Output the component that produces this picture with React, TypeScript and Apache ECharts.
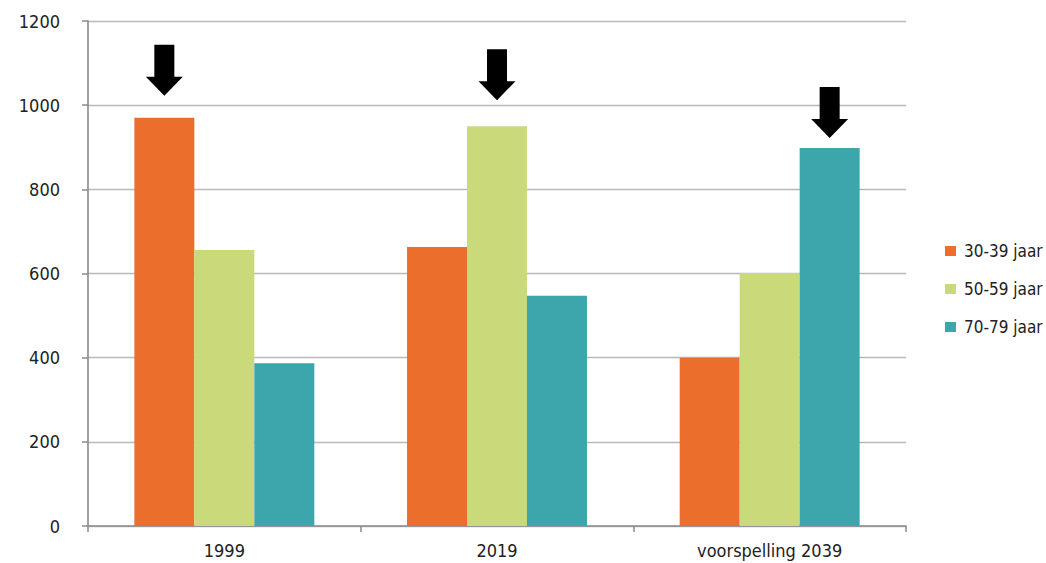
import React, { useEffect, useRef } from "react";
import * as echarts from "echarts";

const categories = ["1999", "2019", "voorspelling 2039"];
const seriesNames = ["30-39 jaar", "50-59 jaar", "70-79 jaar"];
const values3039 = [970, 663, 400];
const values5059 = [656, 950, 601];
const values7079 = [387, 547, 898];
const colors = ["#EC6E2C", "#CADA7B", "#3DA6AD"];
const yTicks = { min: 0, max: 1200, interval: 200 };

const FONT = '"DejaVu Sans Condensed", "Liberation Sans Narrow", sans-serif';
const ARROW = "path://M8.5,0 L28.5,0 L28.5,32 L37,32 L18.5,51 L0,32 L8.5,32 Z";
const arrowOffsets = [-47.5, -51.5, -35.5];

export default function App() {
  const ref = useRef<HTMLDivElement>(null);
  useEffect(() => {
    if (!ref.current) return;
    const chart = echarts.init(ref.current, null, { renderer: "svg" });
    const allValues = [values3039, values5059, values7079];
    chart.setOption({
      animation: false,
      backgroundColor: "#ffffff",
      textStyle: { fontFamily: FONT },
      grid: { left: 88, right: 140, top: 21, bottom: 37, containLabel: false },
      legend: {
        orient: "vertical",
        left: 940,
        top: 236,
        itemWidth: 11,
        itemHeight: 10,
        itemGap: 18,
        icon: "rect",
        data: seriesNames,
        textStyle: { fontFamily: FONT, fontSize: 17, color: "#222", lineHeight: 20, padding: [0, 0, 0, 3] },
      },
      xAxis: {
        type: "category",
        data: categories,
        axisLine: { lineStyle: { color: "#8a8a8a", width: 1.6 } },
        axisTick: { show: true, length: 6, alignWithLabel: false, lineStyle: { color: "#8a8a8a", width: 1.5 } },
        axisLabel: { fontFamily: FONT, fontSize: 18, color: "#222", margin: 15 },
        splitLine: { show: false },
      },
      yAxis: {
        type: "value",
        min: yTicks.min,
        max: yTicks.max,
        interval: yTicks.interval,
        axisLine: { show: true, lineStyle: { color: "#8a8a8a", width: 1.6 } },
        axisTick: { show: true, length: 6, lineStyle: { color: "#8a8a8a", width: 1.5 } },
        axisLabel: { fontFamily: FONT, fontSize: 18, color: "#222", margin: 28, formatter: (v: number) => String(v) },
        splitLine: { show: true, lineStyle: { color: "#b8b8b8", width: 1.4 } },
      },
      series: seriesNames.map((name, i) => ({
        name,
        type: "bar",
        data: allValues[i],
        barGap: "0%",
        barCategoryGap: "34%",
        itemStyle: { color: colors[i] },
        markPoint: {
          symbol: ARROW,
          symbolSize: [37, 51],
          symbolOffset: [0, arrowOffsets[i]],
          label: { show: false },
          itemStyle: { color: "#000" },
          data: [{ type: "max" }],
        },
      })),
    });
    return () => chart.dispose();
  }, []);
  return (
    <div
      ref={ref}
      style={{ position: "fixed", left: 0, top: 0, width: 1046, height: 563 }}
    />
  );
}
